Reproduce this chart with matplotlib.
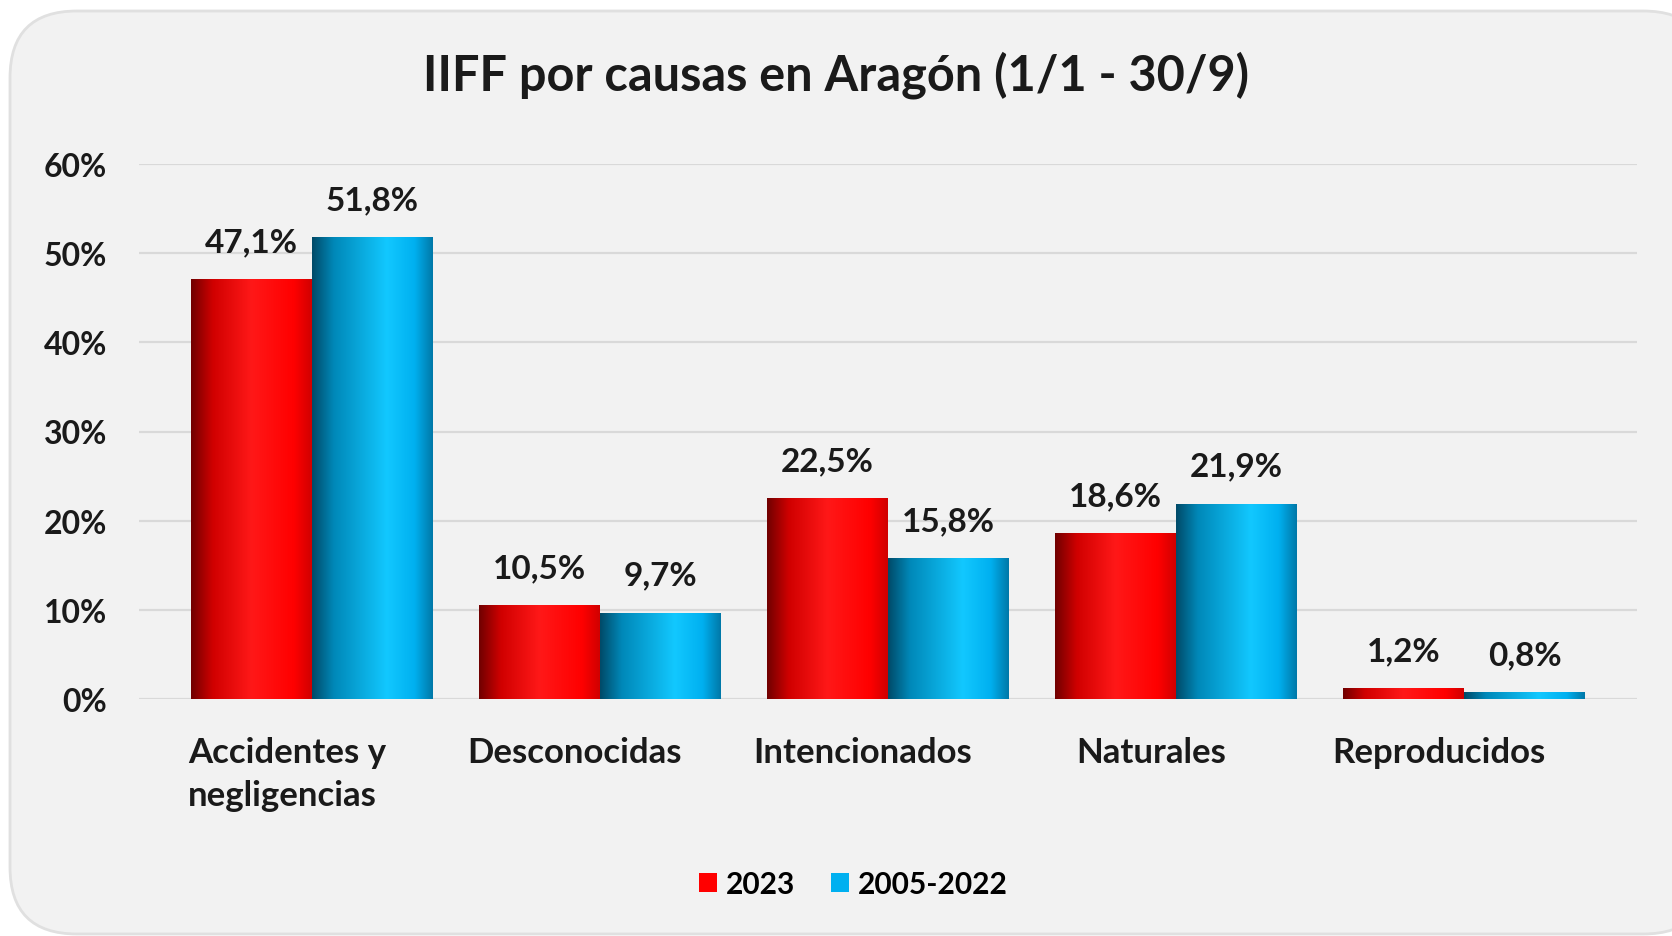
import numpy as np
import matplotlib
matplotlib.use("Agg")
import matplotlib.pyplot as plt
import matplotlib.transforms as mtransforms
from matplotlib.colors import LinearSegmentedColormap
from matplotlib.patches import FancyBboxPatch, Patch

categories = ["Accidentes y\nnegligencias", "Desconocidas", "Intencionados", "Naturales", "Reproducidos"]
series_names = ["2023", "2005-2022"]
values_2023 = [47.1, 10.5, 22.5, 18.6, 1.2]
values_hist = [51.8, 9.7, 15.8, 21.9, 0.8]
yticks = [0, 10, 20, 30, 40, 50, 60]
title = "IIFF por causas en Aragón (1/1 - 30/9)"

plt.rcParams['font.family'] = ['Lato', 'DejaVu Sans']
plt.rcParams['font.weight'] = 'bold'

fig = plt.figure(figsize=(16.72, 9.37), dpi=100)
fig.patch.set_facecolor('white')
box = FancyBboxPatch((10/1672, 2/937), 1700/1672, (925-2)/937,
                     boxstyle="round,pad=0,rounding_size=0.04",
                     transform=fig.transFigure, facecolor='#F2F2F2',
                     edgecolor='#E0E0E0', linewidth=2, zorder=-5,
                     mutation_aspect=1672/937)
fig.patches.append(box)

ax = fig.add_axes([139/1672, 237/937, 1498/1672, 535/937], zorder=2)
ax.set_facecolor('none')

red_cmap = LinearSegmentedColormap.from_list('r', [(0, '#700000'), (0.18, '#d00000'), (0.5, '#ff1818'), (0.85, '#ff0000'), (1, '#d00000')])
blue_cmap = LinearSegmentedColormap.from_list('b', [(0, '#004a68'), (0.18, '#0088b8'), (0.62, '#12c8ff'), (0.85, '#00b0f0'), (1, '#0078a8')])

x = np.arange(len(categories))
w = 0.42
bars1 = ax.bar(x - w/2, values_2023, w, color='none', zorder=2)
bars2 = ax.bar(x + w/2, values_hist, w, color='none', zorder=2)

grad = np.linspace(0, 1, 256).reshape(1, -1)
for bars, cmap in ((bars1, red_cmap), (bars2, blue_cmap)):
    for b in bars:
        bx, by = b.get_x(), b.get_y()
        bw, bh = b.get_width(), b.get_height()
        im = ax.imshow(grad, cmap=cmap, extent=[bx, bx + bw, by, by + bh],
                       aspect='auto', zorder=3, interpolation='bicubic')
        im.set_clip_path(b)

for bars, vals in ((bars1, values_2023), (bars2, values_hist)):
    for b, v in zip(bars, vals):
        ax.annotate(f"{v:.1f}%".replace('.', ','), (b.get_x() + b.get_width()/2, b.get_height()),
                    xytext=(0, 27), textcoords='offset points', ha='center', va='center',
                    fontsize=24, fontweight='bold', color='#1a1a1a', zorder=5)

ax.set_xlim(-0.6, 4.6)
ax.set_ylim(0, 60)
ax.set_yticks(yticks)
ax.set_yticklabels([f"{t}%" for t in yticks], fontsize=23, fontweight='bold', color='#1a1a1a')
ax.set_xticks(x)
ax.set_xticklabels([])
shift = mtransforms.ScaledTranslation(-25/100, -37/100, fig.dpi_scale_trans)
for xi, cat in zip(x, categories):
    ax.text(xi, 0, cat, transform=ax.get_xaxis_transform() + shift, ha='center', va='top',
            multialignment='left', fontsize=25, fontweight='bold', color='#1a1a1a', linespacing=1.42)
ax.tick_params(axis='y', length=0, pad=23)
ax.tick_params(axis='x', length=0)
ax.yaxis.grid(True, color='#D9D9D9', linewidth=1.6, zorder=0)
ax.set_axisbelow(True)
for s in ax.spines.values():
    s.set_visible(False)

fig.text(0.5, 1 - 75/937, title, ha='center', va='center', fontsize=35, fontweight='bold', color='#1a1a1a')

handles = [Patch(facecolor='#ff0000', edgecolor='none'), Patch(facecolor='#00b0f0', edgecolor='none')]
fig.legend(handles, series_names, loc='center', bbox_to_anchor=(853/1672, 1 - 885/937), ncol=2,
           frameon=False, handlelength=0.6, handleheight=0.6, handletextpad=0.3,
           columnspacing=1.2, prop={'weight': 'bold', 'size': 21.5})

fig.savefig('out.png', dpi=100, facecolor='white')
